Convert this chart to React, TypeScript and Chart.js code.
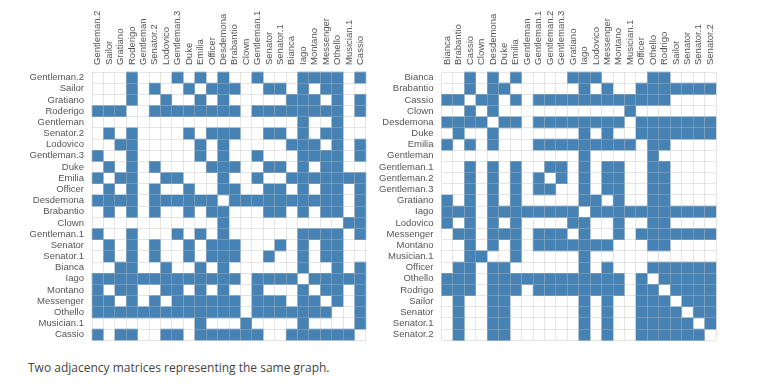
import React, { useEffect, useRef } from "react";
import { Chart, registerables } from "chart.js";

Chart.register(...registerables);

// Characters in alphabetical order (right matrix)
const nodesAlpha = [
  "Bianca", "Brabantio", "Cassio", "Clown", "Desdemona", "Duke", "Emilia",
  "Gentleman", "Gentleman.1", "Gentleman.2", "Gentleman.3", "Gratiano", "Iago",
  "Lodovico", "Messenger", "Montano", "Musician.1", "Officer", "Othello",
  "Rodrigo", "Sailor", "Senator", "Senator.1", "Senator.2",
];

// Reordered (left matrix)
const nodesReordered = [
  "Gentleman.2", "Sailor", "Gratiano", "Rodrigo", "Gentleman", "Senator.2",
  "Lodovico", "Gentleman.3", "Duke", "Emilia", "Officer", "Desdemona",
  "Brabantio", "Clown", "Gentleman.1", "Senator", "Senator.1", "Bianca", "Iago",
  "Montano", "Messenger", "Othello", "Musician.1", "Cassio",
];
const reorderedLabels = nodesReordered.map((n) => (n === "Rodrigo" ? "Roderigo" : n));

// Neighbours of every character
const nBianca = ["Cassio", "Desdemona", "Emilia", "Gratiano", "Iago", "Lodovico", "Othello", "Rodrigo"];
const nBrabantio = ["Cassio", "Desdemona", "Duke", "Iago", "Messenger", "Officer", "Othello", "Rodrigo", "Sailor", "Senator", "Senator.1", "Senator.2"];
const nCassio = ["Bianca", "Brabantio", "Clown", "Desdemona", "Emilia", "Gentleman.1", "Gentleman.2", "Gentleman.3", "Gratiano", "Iago", "Lodovico", "Messenger", "Montano", "Musician.1", "Officer", "Othello", "Rodrigo"];
const nClown = ["Cassio", "Desdemona", "Musician.1"];
const nDesdemona = ["Bianca", "Brabantio", "Cassio", "Clown", "Duke", "Emilia", "Gentleman.1", "Gentleman.2", "Gentleman.3", "Gratiano", "Iago", "Lodovico", "Messenger", "Montano", "Officer", "Othello", "Rodrigo", "Sailor", "Senator", "Senator.1", "Senator.2"];
const nDuke = ["Brabantio", "Desdemona", "Iago", "Messenger", "Officer", "Othello", "Rodrigo", "Sailor", "Senator", "Senator.1", "Senator.2"];
const nEmilia = ["Bianca", "Cassio", "Desdemona", "Gentleman.1", "Gentleman.2", "Gentleman.3", "Gratiano", "Iago", "Lodovico", "Messenger", "Montano", "Musician.1", "Othello", "Rodrigo"];
const nGentleman = ["Iago", "Othello"];
const nGentleman1 = ["Cassio", "Desdemona", "Emilia", "Gentleman.2", "Gentleman.3", "Iago", "Messenger", "Montano", "Othello", "Rodrigo"];
const nGentleman2 = ["Cassio", "Desdemona", "Emilia", "Gentleman.1", "Gentleman.3", "Iago", "Messenger", "Montano", "Othello", "Rodrigo"];
const nGentleman3 = ["Cassio", "Desdemona", "Emilia", "Gentleman.1", "Gentleman.2", "Iago", "Messenger", "Montano", "Othello", "Rodrigo"];
const nGratiano = ["Bianca", "Cassio", "Desdemona", "Emilia", "Iago", "Lodovico", "Montano", "Othello", "Rodrigo"];
const nIago = ["Bianca", "Brabantio", "Cassio", "Desdemona", "Duke", "Emilia", "Gentleman", "Gentleman.1", "Gentleman.2", "Gentleman.3", "Gratiano", "Lodovico", "Messenger", "Montano", "Musician.1", "Officer", "Othello", "Rodrigo", "Sailor", "Senator", "Senator.1", "Senator.2"];
const nLodovico = ["Bianca", "Cassio", "Desdemona", "Emilia", "Gratiano", "Iago", "Montano", "Othello", "Rodrigo"];
const nMessenger = ["Brabantio", "Cassio", "Desdemona", "Duke", "Emilia", "Gentleman.1", "Gentleman.2", "Gentleman.3", "Iago", "Montano", "Officer", "Othello", "Rodrigo", "Sailor", "Senator", "Senator.1", "Senator.2"];
const nMontano = ["Cassio", "Desdemona", "Emilia", "Gentleman.1", "Gentleman.2", "Gentleman.3", "Gratiano", "Iago", "Lodovico", "Messenger", "Othello", "Rodrigo"];
const nMusician1 = ["Cassio", "Clown", "Emilia", "Iago"];
const nOfficer = ["Brabantio", "Cassio", "Desdemona", "Duke", "Iago", "Messenger", "Othello", "Rodrigo", "Sailor", "Senator", "Senator.1", "Senator.2"];
const nOthello = ["Bianca", "Brabantio", "Cassio", "Desdemona", "Duke", "Emilia", "Gentleman", "Gentleman.1", "Gentleman.2", "Gentleman.3", "Gratiano", "Iago", "Lodovico", "Messenger", "Montano", "Officer", "Rodrigo", "Sailor", "Senator", "Senator.1", "Senator.2"];
const nRodrigo = ["Bianca", "Brabantio", "Cassio", "Desdemona", "Duke", "Emilia", "Gentleman.1", "Gentleman.2", "Gentleman.3", "Gratiano", "Iago", "Lodovico", "Messenger", "Montano", "Officer", "Othello", "Sailor", "Senator", "Senator.1", "Senator.2"];
const nSailor = ["Brabantio", "Desdemona", "Duke", "Iago", "Messenger", "Officer", "Othello", "Rodrigo", "Senator", "Senator.1", "Senator.2"];
const nSenator = ["Brabantio", "Desdemona", "Duke", "Iago", "Messenger", "Officer", "Othello", "Rodrigo", "Sailor", "Senator.1", "Senator.2"];
const nSenator1 = ["Brabantio", "Desdemona", "Duke", "Iago", "Messenger", "Officer", "Othello", "Rodrigo", "Sailor", "Senator", "Senator.2"];
const nSenator2 = ["Brabantio", "Desdemona", "Duke", "Iago", "Messenger", "Officer", "Othello", "Rodrigo", "Sailor", "Senator", "Senator.1"];

const neighbours: string[][] = [
  nBianca, nBrabantio, nCassio, nClown, nDesdemona, nDuke, nEmilia, nGentleman,
  nGentleman1, nGentleman2, nGentleman3, nGratiano, nIago, nLodovico, nMessenger,
  nMontano, nMusician1, nOfficer, nOthello, nRodrigo, nSailor, nSenator,
  nSenator1, nSenator2,
];

const CELL_COLOR = "#4682b4";
const GRID_COLOR = "rgba(190,190,190,0.38)";
const FONT_SIZE = 9.5;
const LINE_HEIGHT = 1.2;
const LABEL_FONT = {
  family: "'Liberation Sans', Arial, Helvetica, sans-serif",
  size: FONT_SIZE,
  lineHeight: LINE_HEIGHT,
};
const LABEL_COLOR = "#555";

function buildPoints(order: string[], labels: string[]) {
  const pts: { x: string; y: string }[] = [];
  nodesAlpha.forEach((a, i) => {
    neighbours[i].forEach((b) => {
      pts.push({ x: labels[order.indexOf(b)], y: labels[order.indexOf(a)] });
    });
  });
  return pts;
}

function makeConfig(labels: string[], points: any[], yAxisWidth: number): any {
  const radius = (ctx: any) => {
    const a = ctx.chart.chartArea;
    if (!a) return 8;
    return ((a.right - a.left) / labels.length + 0.4) / Math.SQRT2;
  };
  return {
    type: "scatter",
    data: {
      datasets: [
        {
          data: points,
          pointStyle: "rect",
          backgroundColor: CELL_COLOR,
          borderWidth: 0,
          pointRadius: radius,
          pointHoverRadius: radius,
        },
      ],
    },
    options: {
      responsive: false,
      animation: false,
      events: [],
      layout: { padding: { left: 0, top: 0, right: 4.5, bottom: 4.5 } },
      plugins: { legend: { display: false }, tooltip: { enabled: false } },
      scales: {
        x: {
          type: "category",
          labels,
          position: "top",
          offset: true,
          grid: { offset: true, color: GRID_COLOR, drawTicks: false, z: 1 },
          border: { display: false },
          ticks: {
            autoSkip: false,
            minRotation: 90,
            maxRotation: 90,
            padding: 7,
            // top-axis rotated labels are drawn one line-height left of the tick
            labelOffset: FONT_SIZE * LINE_HEIGHT,
            color: LABEL_COLOR,
            font: LABEL_FONT,
          },
          afterFit: (s: any) => {
            s.height = 72;
          },
        },
        y: {
          type: "category",
          labels,
          position: "left",
          offset: true,
          grid: { offset: true, color: GRID_COLOR, drawTicks: false, z: 1 },
          border: { display: false },
          ticks: {
            autoSkip: false,
            padding: 8,
            color: LABEL_COLOR,
            font: LABEL_FONT,
          },
          afterFit: (s: any) => {
            s.width = yAxisWidth;
          },
        },
      },
    },
  };
}

function MatrixChart(props: {
  labels: string[];
  order: string[];
  yAxisWidth: number;
  left: number;
  width: number;
}) {
  const ref = useRef<HTMLCanvasElement | null>(null);
  useEffect(() => {
    if (!ref.current) return;
    const pts = buildPoints(props.order, props.labels);
    const chart = new Chart(ref.current, makeConfig(props.labels, pts, props.yAxisWidth));
    return () => chart.destroy();
  }, []);
  return (
    <canvas
      ref={ref}
      width={props.width}
      height={354}
      style={{ position: "absolute", left: props.left, top: 0, width: props.width, height: 354 }}
    />
  );
}

export default function App() {
  return (
    <div
      style={{
        position: "fixed",
        left: 0,
        top: 0,
        width: 761,
        height: 387,
        background: "#fff",
        overflow: "hidden",
      }}
    >
      <MatrixChart labels={reorderedLabels} order={nodesReordered} yAxisWidth={92} left={0} width={374} />
      <MatrixChart labels={nodesAlpha} order={nodesAlpha} yAxisWidth={65.5} left={376} width={348} />
      <div
        style={{
          position: "absolute",
          left: 28,
          top: 360,
          fontFamily: "'Open Sans', 'Noto Sans', sans-serif",
          fontSize: 12,
          lineHeight: "16px",
          color: "#444",
          whiteSpace: "nowrap",
        }}
      >
        Two adjacency matrices representing the same graph.
      </div>
    </div>
  );
}
